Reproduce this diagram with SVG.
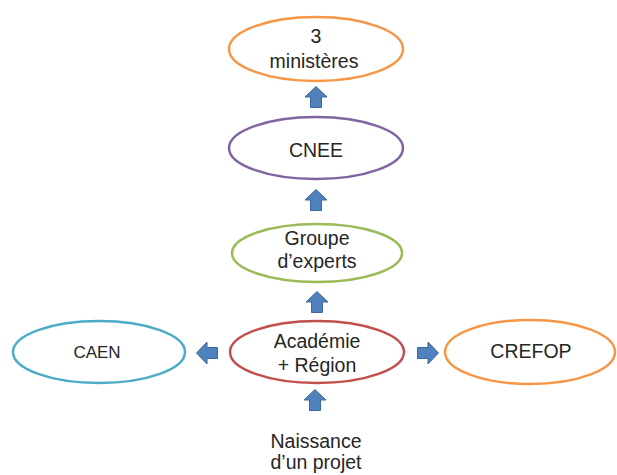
<svg xmlns="http://www.w3.org/2000/svg" xmlns:xlink="http://www.w3.org/1999/xlink" width="617" height="475" viewBox="0 0 617 475">
<style>
.n{fill:#fff;stroke-width:2.5}
.t{font-family:"Liberation Sans",Arial,sans-serif;font-size:19.5px;fill:#262626;text-anchor:middle}
.arr{fill:#4f81bd;stroke:#3d6a9e;stroke-width:1}
</style>
<defs>
<path id="up" d="M0,-10.5 L11,0 L5.5,0 L5.5,10.5 L-5.5,10.5 L-5.5,0 L-11,0 Z"/>
</defs>
<rect width="617" height="475" fill="#fff"/>
<g id="connectors" class="arr">
<use xlink:href="#up" transform="translate(316,97)"/>
<use xlink:href="#up" transform="translate(316,200)"/>
<use xlink:href="#up" transform="translate(317,302)"/>
<use xlink:href="#up" transform="translate(315,400)"/>
<use xlink:href="#up" transform="translate(207,353) rotate(-90)"/>
<use xlink:href="#up" transform="translate(428,353) rotate(90)"/>
</g>
<g id="ministeres">
<ellipse class="n" cx="316" cy="49" rx="87" ry="32" stroke="#f79646"/>
<text class="t" x="316" y="43">3</text>
<text class="t" x="314" y="68">ministères</text>
</g>
<g id="cnee">
<ellipse class="n" cx="316" cy="148" rx="87" ry="31" stroke="#8064a2"/>
<text class="t" x="316" y="157">CNEE</text>
</g>
<g id="groupe">
<ellipse class="n" cx="317" cy="253" rx="85" ry="29" stroke="#9bbb59"/>
<text class="t" x="317" y="245">Groupe</text>
<text class="t" x="317" y="268">d’experts</text>
</g>
<g id="academie">
<ellipse class="n" cx="317" cy="352" rx="87" ry="31" stroke="#c0504d"/>
<text class="t" x="317" y="348">Académie</text>
<text class="t" x="317" y="372">+ Région</text>
</g>
<g id="caen">
<ellipse class="n" cx="99" cy="352" rx="86" ry="31" stroke="#4bacc6"/>
<text class="t" x="97" y="358" style="font-size:17px">CAEN</text>
</g>
<g id="crefop">
<ellipse class="n" cx="530" cy="352" rx="85" ry="32" stroke="#f79646"/>
<text class="t" x="531" y="358">CREFOP</text>
</g>
<g id="naissance">
<text class="t" x="316" y="448">Naissance</text>
<text class="t" x="316" y="469">d’un projet</text>
</g>
</svg>
